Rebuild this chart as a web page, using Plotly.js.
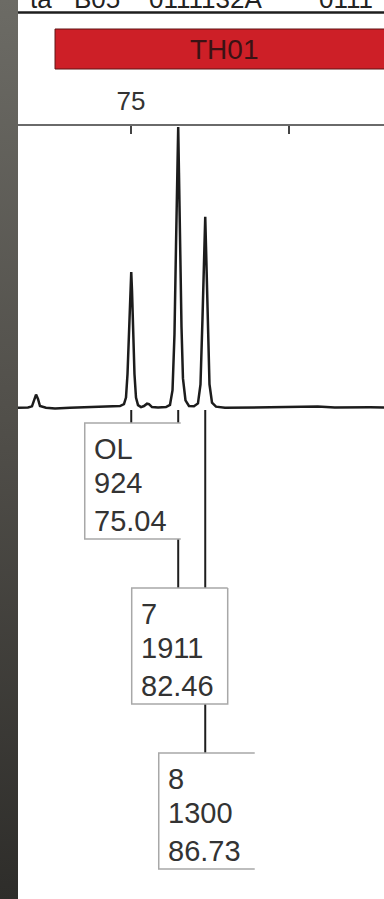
<!DOCTYPE html>
<html>
<head>
<meta charset="utf-8">
<script src="https://cdn.plot.ly/plotly-3.0.1.min.js"></script>
<style>
html,body{margin:0;padding:0;width:384px;height:899px;overflow:hidden;background:#fff;}
#strip{position:absolute;left:0;top:0;width:18px;height:899px;background:linear-gradient(#6c6b65,#4f4d48 50%,#2e2d2a);}
#chart{position:absolute;left:18px;top:0;width:366px;height:899px;}
</style>
</head>
<body>
<div id="strip"></div>
<div id="chart"></div>
<script>
// Electropherogram trace (size in bp, signal in RFU)
const traceSize = [57.15,58.73,59.36,59.68,60.00,60.31,60.62,61.57,63.0,65.36,68.52,71.68,73.26,73.89,74.21,74.45,74.68,74.84,75.04,75.16,75.32,75.55,75.79,76.11,76.58,77.05,77.53,77.84,78.32,79.27,80.53,81.16,81.56,81.87,82.11,82.27,82.46,82.58,82.74,82.98,83.21,83.61,84.16,84.95,85.58,85.98,86.29,86.53,86.73,86.85,87.09,87.40,87.80,88.43,89.85,93.80,98.54,101.7,104.5,107.2,109.6,112.8,114.97];
const traceRFU  = [0,2,10,55,90,60,12,0,-5,0,5,8,12,25,70,230,560,800,924,800,560,230,70,18,5,12,28,25,5,2,5,20,120,500,1100,1600,1911,1600,1100,550,200,50,12,10,30,160,600,1100,1300,1100,600,160,35,8,0,3,6,4,8,2,4,3,2];

// Called alleles
const alleleNames   = ['OL','7','8'];
const alleleHeights = [924,1911,1300];
const alleleSizes   = [75.04,82.46,86.73];

// Axis ticks
const tickValues = [75,100];
const tickLabels = ['75',''];
const markerName = 'TH01';
const markerStart = 63.0;
const headerWords = ['ta','B05','0111132A','0111'];

// ---- layout helpers (pixels of the page -> paper units) ----
const plotTop = 126, plotBottom = 410, plotH = plotBottom - plotTop;
const PY = py => (plotBottom - py) / plotH;
const PX = px => (px - 18) / 366;
const pxPerBp = 6.33;

const shapes = [];
const annotations = [];

// top rule line
shapes.push({type:'line', xref:'paper', yref:'paper', x0:0, x1:1, y0:PY(12.5), y1:PY(12.5), line:{color:'#1e1e1e', width:2.5}});
// header fragments (cut by the top edge)
const headerX = [28,72,147,317];
headerWords.forEach((w,i)=>{
  annotations.push({xref:'paper', yref:'paper', x:PX(headerX[i]), y:PY(16), xanchor:'left', yanchor:'bottom', text:w, showarrow:false, font:{family:'Liberation Sans, Arial', size:26, color:'#222'}});
});
// marker bar
shapes.push({type:'rect', xref:'x', yref:'paper', x0:markerStart, x1:125, y0:PY(69), y1:PY(29), fillcolor:'#cd1f27', line:{color:'#5e1515', width:1}});
annotations.push({xref:'paper', yref:'paper', x:PX(224), y:PY(49), xanchor:'center', yanchor:'middle', text:markerName, showarrow:false, font:{family:'Liberation Sans, Arial', size:28, color:'#3a1214'}});

// label boxes
const boxTops = [423, 588, 753];
const boxH = 116;
const boxOffsetBp = 46.5 / pxPerBp;
const boxWBp = 96 / pxPerBp;
const boxRightBorder = [false, true, false];
const lineShifts = [-8, -42, -80];

// connector lines first (boxes are drawn over them)
alleleSizes.forEach((s,i)=>{
  shapes.push({type:'line', xref:'x', yref:'paper', x0:s, x1:s, y0:PY(410), y1:PY(boxTops[i]), line:{color:'#1e1e1e', width:2}});
});
alleleSizes.forEach((s,i)=>{
  const x0 = s - boxOffsetBp, x1 = x0 + boxWBp;
  const yt = PY(boxTops[i]), yb = PY(boxTops[i] + boxH);
  shapes.push({type:'rect', xref:'x', yref:'paper', x0:x0, x1:x1, y0:yb, y1:yt, fillcolor:'#ffffff', line:{width:0}});
  let path = `M${x1},${yt} L${x0},${yt} L${x0},${yb} L${x1},${yb}`;
  if (boxRightBorder[i]) path += ` L${x1},${yt}`;
  shapes.push({type:'path', xref:'x', yref:'paper', path:path, line:{color:'#a8a8a8', width:1.5}});
  const lines = [alleleNames[i], String(alleleHeights[i]), alleleSizes[i].toFixed(2)];
  lines.forEach((t,k)=>{
    annotations.push({xref:'x', yref:'paper', x:x0, xshift:7, y:yt, yshift:lineShifts[k], xanchor:'left', yanchor:'top', align:'left',
      text:t, showarrow:false, font:{family:'Liberation Sans, Arial', size:29, color:'#333'}});
  });
});

const data = [{
  x: traceSize, y: traceRFU, type:'scatter', mode:'lines',
  line:{color:'#1c1c1c', width:2.5, shape:'linear'}, hoverinfo:'skip'
}];

const layout = {
  width:366, height:899,
  margin:{l:0, r:0, t:plotTop, b:899-plotBottom, pad:0},
  paper_bgcolor:'#ffffff', plot_bgcolor:'#ffffff',
  showlegend:false,
  xaxis:{range:[57.15,114.97], side:'top', showline:true, linecolor:'#6a6a6a', linewidth:2,
    ticks:'inside', ticklen:8, tickwidth:1.5, tickcolor:'#444',
    tickvals:tickValues, ticktext:tickLabels, ticklabelstandoff:4,
    tickfont:{family:'Liberation Sans, Arial', size:26, color:'#333'},
    showgrid:false, zeroline:false, fixedrange:true},
  yaxis:{range:[-15,1918], visible:false, showgrid:false, zeroline:false, fixedrange:true},
  shapes:shapes, annotations:annotations
};
Plotly.newPlot('chart', data, layout, {displayModeBar:false, staticPlot:true});
</script>
</body>
</html>
